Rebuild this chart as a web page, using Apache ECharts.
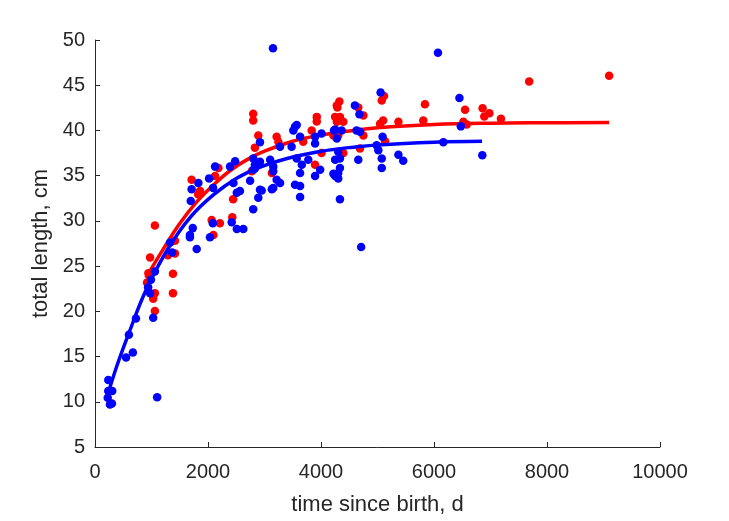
<!DOCTYPE html>
<html>
<head>
<meta charset="utf-8">
<script src="https://cdn.jsdelivr.net/npm/echarts@6/dist/echarts.min.js"></script>
<style>
html,body{margin:0;padding:0;background:#fff;}
#chart{width:729px;height:521px;}
</style>
</head>
<body>
<div id="chart"></div>
<script>
// Observed data: time since birth (d), total length (cm)
const redPoints = [
  [1060,20.05],[1380,22.0],[1030,21.4],[1060,22.0],[920,23.2],[945,24.2],[1380,24.15],[975,25.95],[1290,26.2],[1415,26.4],[1415,27.8],[1060,29.5],
  [2185,35.85],[1710,34.55],[2125,34.95],[1860,33.3],[1825,32.95],[2445,32.4],[2065,30.1],[2210,29.75],[2430,30.4],[2095,28.45],
  [2800,41.85],[2800,41.1],[2890,39.45],[2830,38.1],[3215,39.3],[3245,38.75],[3685,38.75],[3925,41.5],[3925,41.0],[3835,40.0],[4220,39.45],[4280,42.75],[4250,41.5],[2775,35.5],[3130,35.3],[3895,36.2],[4010,37.5],
  [5115,43.8],[5075,43.3],[4325,43.2],[4290,42.55],[4660,42.55],[4750,41.65],[4335,41.5],[4395,40.95],[4280,40.95],[4305,39.45],[4750,39.45],[5045,40.75],[5100,41.1],[5370,40.95],[5810,41.1],[5840,42.9],[5135,38.8],[4690,38.0],[4395,37.5],
  [6550,42.3],[6860,42.45],[6980,41.9],[6890,41.55],[7185,41.3],[6520,40.95],[6580,40.65],[7685,45.4],[9100,46.05]
];
const bluePoints = [
  [235,12.4],[235,11.2],[305,11.2],[225,10.45],[265,9.7],[300,9.8],[1100,10.5],
  [550,14.9],[670,15.45],[600,17.4],[725,19.2],[1030,19.3],[975,22.0],[940,22.65],[990,23.5],[1060,24.4],[1330,27.6],[1365,26.5],[1800,26.9],[1680,28.2],
  [2125,36.0],[1830,34.2],[2020,34.7],[1710,33.5],[2090,33.65],[1695,32.2],[2390,36.0],[2480,36.6],[2450,34.2],[2510,33.1],[2745,34.45],[2830,35.8],[2920,36.55],[2950,33.35],[2890,32.55],[2800,31.3],[3130,33.5],[3155,35.5],[3215,34.55],[2085,29.75],[2420,29.85],[2510,29.1],[1730,29.2],[1680,28.45],[2035,28.2],
  [2920,38.7],[3275,38.2],[3540,40.4],[3570,40.6],[3510,40.0],[3630,39.3],[3480,38.2],[4010,39.65],[3895,39.3],[3895,38.55],[4250,40.1],[2800,36.9],[2830,36.2],[2800,35.65],[3100,36.75],[3155,36.0],[3275,34.2],[3155,33.65],[2920,33.45],[3570,36.9],[3660,36.2],[3630,35.3],[3540,34.0],[3630,33.85],[3630,32.65],[3775,36.75],[3895,34.95],[3985,35.65],[4220,35.2],[4250,36.75],[2625,29.1],[2565,33.3],
  [5055,44.2],[4600,42.75],[4680,41.8],[4230,40.0],[4365,40.0],[4280,39.1],[4630,40.0],[4690,39.85],[5090,39.3],[4985,38.35],[5015,37.8],[4305,37.65],[4335,36.9],[4660,36.75],[5075,36.9],[5075,35.85],[5370,37.3],[5455,36.65],[4335,35.85],[4305,35.3],[4250,34.95],[4305,34.7],[4335,32.4],[4710,27.1],[3150,49.1],
  [6070,48.6],[6450,43.6],[6475,40.45],[6165,38.7],[6855,37.25]
];
// Fitted growth curves
const redCurve = [[900,23.7],[1200,26.8],[1500,29.7],[1800,32.1],[2100,34.0],[2400,35.6],[2700,36.8],[3000,37.7],[3500,38.8],[4000,39.5],[4500,39.95],[5000,40.3],[6000,40.65],[7000,40.8],[8000,40.85],[9100,40.88]];
const blueCurve = [[230,10.9],[400,14.2],[600,17.6],[900,22.3],[1300,27.0],[1700,30.5],[2100,32.9],[2500,34.7],[2900,35.9],[3400,36.9],[4000,37.7],[4500,38.1],[5000,38.4],[6000,38.7],[6850,38.8]];

const xLabel = 'time since birth, d';
const yLabel = 'total length, cm';

const axisColor = '#262626';
const font = '"Liberation Sans", Arial, Helvetica, sans-serif';

const chart = echarts.init(document.getElementById('chart'), null, {renderer: 'canvas'});
const axisCommon = {
  type: 'value',
  axisLine: {show: true, onZero: false, lineStyle: {color: axisColor, width: 1}},
  axisTick: {show: true, inside: true, length: 5, lineStyle: {color: axisColor}},
  splitLine: {show: false},
  axisLabel: {color: axisColor, fontSize: 20, fontFamily: font, formatter: v => String(v)},
  nameTextStyle: {color: axisColor, fontSize: 22, fontFamily: font}
};
chart.setOption({
  animation: false,
  backgroundColor: '#fff',
  grid: {left: 95, right: 69, top: 40, bottom: 68, containLabel: false},
  xAxis: Object.assign({}, axisCommon, {
    min: 0, max: 10000, interval: 2000,
    name: xLabel, nameLocation: 'middle', nameGap: 47,
    axisLabel: Object.assign({}, axisCommon.axisLabel, {margin: 15})
  }),
  yAxis: Object.assign({}, axisCommon, {
    min: 5, max: 50, interval: 5,
    name: yLabel, nameLocation: 'middle', nameGap: 41,
    axisLabel: Object.assign({}, axisCommon.axisLabel, {margin: 10})
  }),
  series: [
    {type: 'scatter', data: redPoints, symbol: 'circle', symbolSize: 8.5, itemStyle: {color: '#ff0000', opacity: 1}, z: 2},
    {type: 'line', data: redCurve, smooth: 0.4, showSymbol: false, symbol: 'none', lineStyle: {color: '#ff0000', width: 3.5}, z: 3},
    {type: 'scatter', data: bluePoints, symbol: 'circle', symbolSize: 8.5, itemStyle: {color: '#0000ff', opacity: 1}, z: 4},
    {type: 'line', data: blueCurve, smooth: 0.4, showSymbol: false, symbol: 'none', lineStyle: {color: '#0000ff', width: 3.5}, z: 5}
  ]
});
</script>
</body>
</html>
